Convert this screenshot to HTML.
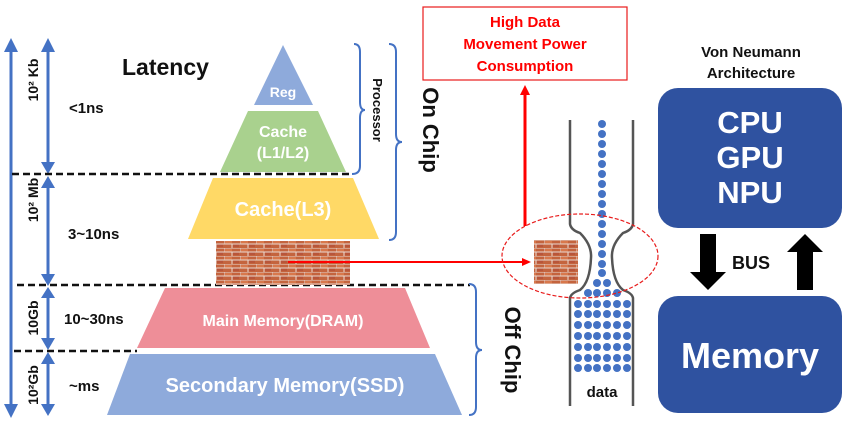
<!DOCTYPE html>
<html><head><meta charset="utf-8"><style>
html,body{margin:0;padding:0;background:#fff;}
svg{display:block;font-family:"Liberation Sans",sans-serif;font-weight:bold;}
</style></head><body>
<svg width="850" height="423" viewBox="0 0 850 423" xmlns="http://www.w3.org/2000/svg">
<defs>
<pattern id="brick" width="16" height="8" patternUnits="userSpaceOnUse">
<rect width="16" height="8" fill="#c4643e"/>
<rect x="1" y="1" width="7" height="2.5" fill="#d8784c"/>
<rect x="9" y="4.5" width="6" height="2.5" fill="#b8553a"/>
<path d="M0 0H16M0 4H16M0 0V4M8 4V8" stroke="#e8d8d0" stroke-width="1"/>
</pattern>
</defs>
<g stroke="#4472c4" stroke-width="3" fill="none">
<line x1="11" y1="50" x2="11" y2="406"/>
<line x1="48" y1="50" x2="48" y2="164"/>
<line x1="48" y1="186" x2="48" y2="276"/>
<line x1="48" y1="296" x2="48" y2="340"/>
<line x1="48" y1="362" x2="48" y2="406"/>
</g>
<g fill="#4472c4">
<path d="M4,52 L11,38 L18,52Z"/><path d="M4,404 L11,418 L18,404Z"/>
<path d="M41,52 L48,38 L55,52Z"/><path d="M41,162 L48,174 L55,162Z"/>
<path d="M41,188 L48,176 L55,188Z"/><path d="M41,274 L48,286 L55,274Z"/>
<path d="M41,298 L48,287 L55,298Z"/><path d="M41,338 L48,350 L55,338Z"/>
<path d="M41,364 L48,352 L55,364Z"/><path d="M41,404 L48,416 L55,404Z"/>
</g>
<g stroke="#111" stroke-width="2.5" stroke-dasharray="7,4">
<line x1="12" y1="174" x2="352" y2="174"/>
<line x1="17" y1="285" x2="470" y2="285"/>
<line x1="14" y1="351" x2="137" y2="351"/>
</g>
<polygon points="283,45 313,105 254,105" fill="#8eaadb"/>
<polygon points="248,111 318,111 346,172 220,172" fill="#a9d18e"/>
<polygon points="213,178 353,178 379,239 188,239" fill="#ffd966"/>
<rect x="216" y="241" width="134" height="44" fill="url(#brick)"/>
<polygon points="165,288 405,288 430,348 137,348" fill="#ee8e98"/>
<polygon points="130,354 435,354 462,415 107,415" fill="#8eaadb"/>
<g fill="#fff" text-anchor="middle">
<text x="283" y="97" font-size="14">Reg</text>
<text x="283" y="137" font-size="16">Cache</text>
<text x="283" y="158" font-size="16">(L1/L2)</text>
<text x="283" y="216" font-size="20">Cache(L3)</text>
<text x="283" y="326" font-size="16">Main Memory(DRAM)</text>
<text x="285" y="392" font-size="20">Secondary Memory(SSD)</text>
</g>
<g fill="#111">
<text x="122" y="75" font-size="23">Latency</text>
<text x="69" y="113" font-size="15">&lt;1ns</text>
<text x="68" y="239" font-size="15">3~10ns</text>
<text x="64" y="324" font-size="15">10~30ns</text>
<text x="69" y="391" font-size="15">~ms</text>
<text transform="translate(38,80) rotate(-90)" text-anchor="middle" font-size="14">10² Kb</text>
<text transform="translate(38,200) rotate(-90)" text-anchor="middle" font-size="14">10² Mb</text>
<text transform="translate(38,318) rotate(-90)" text-anchor="middle" font-size="14">10Gb</text>
<text transform="translate(38,385) rotate(-90)" text-anchor="middle" font-size="14">10²Gb</text>
<text transform="translate(373,110) rotate(90)" text-anchor="middle" font-size="13">Processor</text>
<text transform="translate(423,130) rotate(90)" text-anchor="middle" font-size="22">On Chip</text>
<text transform="translate(505,350) rotate(90)" text-anchor="middle" font-size="22">Off Chip</text>
</g>
<g stroke="#4472c4" stroke-width="2" fill="none">
<path d="M354,44 Q360,44 360,52 L360,102 Q360,110 365,110 Q360,110 360,118 L360,166 Q360,174 352,174"/>
<path d="M389,44 Q396,44 396,52 L396,134 Q396,142 402,142 Q396,142 396,150 L396,232 Q396,240 389,240"/>
<path d="M469,284 Q476,284 476,292 L476,342 Q476,350 482,350 Q476,350 476,358 L476,407 Q476,415 469,415"/>
</g>
<rect x="423" y="7" width="204" height="73" fill="#fff" stroke="#e81c1c" stroke-width="1.2"/>
<g fill="#f00" text-anchor="middle" font-size="15">
<text x="525" y="27">High Data</text>
<text x="525" y="49">Movement Power</text>
<text x="525" y="71">Consumption</text>
</g>
<line x1="525" y1="226" x2="525" y2="94" stroke="#f00" stroke-width="3"/>
<path d="M520,95 L525,85 L530,95Z" fill="#f00"/>
<line x1="288" y1="262" x2="524" y2="262" stroke="#f00" stroke-width="2"/>
<path d="M522,258 L531,262 L522,266Z" fill="#f00"/>
<rect x="534" y="240" width="44" height="44" fill="url(#brick)"/>
<g stroke="#555" stroke-width="2.5" fill="none">
<path d="M570,120 L570,224 Q571,230 580,233 Q592,245 591,258 Q590,282 580,290 Q571,293 570,298 L570,406"/>
<path d="M633,120 L633,224 Q632,230 623,233 Q611,245 612,258 Q613,282 623,290 Q632,293 633,298 L633,406"/>
</g>
<g fill="#4472c4">
<circle cx="602" cy="124" r="4"/><circle cx="602" cy="134" r="4"/><circle cx="602" cy="144" r="4"/><circle cx="602" cy="154" r="4"/><circle cx="602" cy="164" r="4"/><circle cx="602" cy="174" r="4"/><circle cx="602" cy="184" r="4"/><circle cx="602" cy="194" r="4"/><circle cx="602" cy="204" r="4"/><circle cx="602" cy="214" r="4"/><circle cx="602" cy="224" r="4"/><circle cx="602" cy="234" r="4"/><circle cx="602" cy="244" r="4"/><circle cx="602" cy="254" r="4"/><circle cx="602" cy="264" r="4"/><circle cx="602" cy="273" r="4"/>
<circle cx="597" cy="283" r="4"/><circle cx="607" cy="283" r="4"/>
<circle cx="588" cy="293" r="4"/><circle cx="597" cy="293" r="4"/><circle cx="607" cy="293" r="4"/><circle cx="617" cy="293" r="4"/>
</g>
<g fill="#4472c4">
<g><circle cx="578" cy="304" r="4"/><circle cx="588" cy="304" r="4"/><circle cx="597" cy="304" r="4"/><circle cx="607" cy="304" r="4"/><circle cx="617" cy="304" r="4"/><circle cx="627" cy="304" r="4"/></g>
<g transform="translate(0,10)"><circle cx="578" cy="304" r="4"/><circle cx="588" cy="304" r="4"/><circle cx="597" cy="304" r="4"/><circle cx="607" cy="304" r="4"/><circle cx="617" cy="304" r="4"/><circle cx="627" cy="304" r="4"/></g>
<g transform="translate(0,21)"><circle cx="578" cy="304" r="4"/><circle cx="588" cy="304" r="4"/><circle cx="597" cy="304" r="4"/><circle cx="607" cy="304" r="4"/><circle cx="617" cy="304" r="4"/><circle cx="627" cy="304" r="4"/></g>
<g transform="translate(0,32)"><circle cx="578" cy="304" r="4"/><circle cx="588" cy="304" r="4"/><circle cx="597" cy="304" r="4"/><circle cx="607" cy="304" r="4"/><circle cx="617" cy="304" r="4"/><circle cx="627" cy="304" r="4"/></g>
<g transform="translate(0,43)"><circle cx="578" cy="304" r="4"/><circle cx="588" cy="304" r="4"/><circle cx="597" cy="304" r="4"/><circle cx="607" cy="304" r="4"/><circle cx="617" cy="304" r="4"/><circle cx="627" cy="304" r="4"/></g>
<g transform="translate(0,54)"><circle cx="578" cy="304" r="4"/><circle cx="588" cy="304" r="4"/><circle cx="597" cy="304" r="4"/><circle cx="607" cy="304" r="4"/><circle cx="617" cy="304" r="4"/><circle cx="627" cy="304" r="4"/></g>
<g transform="translate(0,64)"><circle cx="578" cy="304" r="4"/><circle cx="588" cy="304" r="4"/><circle cx="597" cy="304" r="4"/><circle cx="607" cy="304" r="4"/><circle cx="617" cy="304" r="4"/><circle cx="627" cy="304" r="4"/></g>
</g>
<ellipse cx="580" cy="256" rx="78" ry="42" fill="none" stroke="#e81c1c" stroke-width="1.2" stroke-dasharray="4,2"/>
<text x="602" y="397" text-anchor="middle" font-size="15" fill="#111">data</text>
<g fill="#111" text-anchor="middle" font-size="15">
<text x="751" y="57">Von Neumann</text>
<text x="751" y="78">Architecture</text>
<text x="751" y="269" font-size="18">BUS</text>
</g>
<rect x="658" y="88" width="184" height="140" rx="20" fill="#2f52a0"/>
<rect x="658" y="296" width="184" height="117" rx="20" fill="#2f52a0"/>
<g fill="#fff" text-anchor="middle">
<text x="750" y="133" font-size="31">CPU</text>
<text x="750" y="168" font-size="31">GPU</text>
<text x="750" y="203" font-size="31">NPU</text>
<text x="750" y="368" font-size="36">Memory</text>
</g>
<path d="M700,234 H716 V272 H726 L708,290 L690,272 H700Z" fill="#000"/>
<path d="M797,290 H813 V252 H823 L805,234 L787,252 H797Z" fill="#000"/>
</svg>
</body></html>
